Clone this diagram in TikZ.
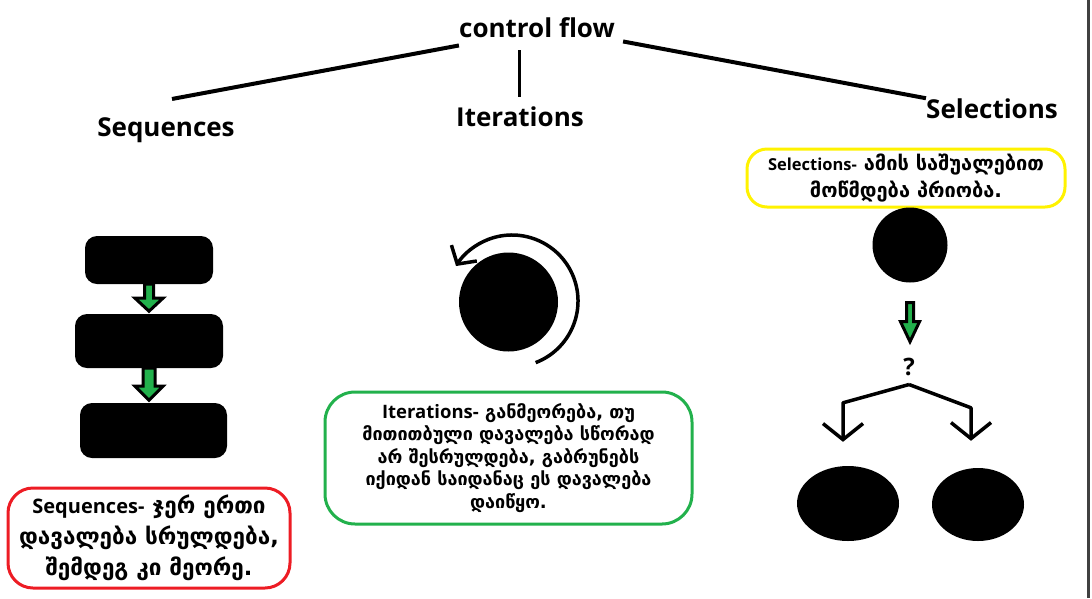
\documentclass[tikz,border=0pt]{standalone}
\usepackage{fontspec}
\setmainfont{Open Sans}
\newfontfamily\geofont{DejaVu Sans}
\usetikzlibrary{shapes.geometric,arrows.meta,calc}

\definecolor{notered}{HTML}{ED1C24}
\definecolor{notegreen}{HTML}{22B14C}
\definecolor{noteyellow}{HTML}{FFF200}
\definecolor{arrowgreen}{HTML}{22B14C}

\begin{document}
\begin{tikzpicture}[x=1pt, y=-1pt,
      title/.style={font=\fontsize{26}{30}\selectfont\bfseries, inner sep=0pt, anchor=base},
      branch/.style={line width=4pt},
      block/.style={fill=black, rounded corners=12pt, inner sep=0pt},
      blob/.style={fill=black, inner sep=0pt},
      fatarrow/.style={draw=black, fill=arrowgreen, line width=3pt, line join=miter},
      note/.style={draw, line width=3pt, align=center, inner sep=0pt},
      pick/.style={line width=3.5pt, -{Straight Barb[length=16pt, width=40pt, line width=3.5pt]}}
    ]
    \useasboundingbox (0,0) rectangle (1092,598);
    \draw[line width=3pt, black!75] (1088.5,0) -- (1088.5,598);

    % titles
    \node[title] (cf) at (537,37) {control flow};
    \node[title] (seq) at (166,136) {Sequences};
    \node[title] (it) at (520,126) {Iterations};
    \node[title] (sel) at (992,118) {Selections};

    \draw[branch] ([shift={(0,8)}]cf.south west) -- ([shift={(6,-18)}]seq.north);
    \draw[branch, line width=3pt] ($(it.north |- cf.south)+(-1,13)$) -- ([shift={(-1,-9)}]it.north);
    \draw[branch] ([shift={(8,4)}]cf.south east) -- ([shift={(0,-10)}]sel.west);

    % Sequences
    \node[block, minimum width=128pt, minimum height=48pt] (s1) at (149,260) {};
    \node[block, minimum width=148pt, minimum height=54pt] (s2) at (149,341) {};
    \node[block, minimum width=147pt, minimum height=55pt] (s3) at (153.5,430.5) {};
    \draw[fatarrow] ([shift={(-4.5,0)}]s1.south) -- ++(0,14) -- ++(-9.5,0) -- ++(14,13)
      -- ++(14,-13) -- ++(-9.5,0) -- ++(0,-14) -- cycle;
    \draw[fatarrow] ([shift={(-6,0)}]s2.south) -- ++(0,18) -- ++(-8,0) -- ++(14,14)
      -- ++(14,-14) -- ++(-8,0) -- ++(0,-18) -- cycle;
    \node[note, draw=notered, rounded corners=25pt, minimum width=282pt, minimum height=100pt,
      font=\geofont\bfseries\fontsize{22.5}{31}\selectfont] (seqnote) at (149,538)
      {{\rmfamily\fontsize{20}{31}\selectfont Sequences-} ჯერ ერთი\\დავალება სრულდება,\\შემდეგ კი მეორე.};

    % Iterations
    \node[blob, circle, minimum size=99pt] (ic) at (508.5,302) {};
    \draw[line width=3.5pt, -{Straight Barb[length=13pt, width=30pt, line width=3.5pt]}]
      ($(ic.center)+(3.5,-1)+(69:66)$) arc[start angle=69, end angle=-148, radius=66];
    \node[note, draw=notegreen, rounded corners=30pt, minimum width=367pt, minimum height=132pt,
      font=\geofont\bfseries\fontsize{18}{22.5}\selectfont] (itnote) at (508.5,458)
      {{\rmfamily\fontsize{18.5}{22.5}\selectfont Iterations-} განმეორება, თუ\\მითითბული დავალება სწორად\\არ შესრულდება, გაბრუნებს\\იქიდან საიდანაც ეს დავალება\\დაიწყო.};

    % Selections
    \node[note, draw=noteyellow, rounded corners=20pt, minimum width=318pt, minimum height=58pt,
      font=\geofont\bfseries\fontsize{20}{27}\selectfont] (selnote) at (906,178)
      {{\rmfamily\fontsize{16.5}{27}\selectfont Selections-} ამის საშუალებით\\მოწმდება პრიობა.};
    \node[blob, circle, minimum size=75pt] (sc) at (910,245) {};
    \draw[fatarrow] ([shift={(-3.5,20)}]sc.south) -- ++(0,19) -- ++(-6,0) -- ++(9.5,20)
      -- ++(9.5,-20) -- ++(-6,0) -- ++(0,-19) -- cycle;
    \node[font=\fontsize{24}{26}\selectfont\bfseries, inner sep=0pt, anchor=base] (q) at (909,375) {?};
    \node[blob, ellipse, minimum width=102pt, minimum height=75pt] (e1) at (848,503.5) {};
    \node[blob, ellipse, minimum width=92pt, minimum height=73pt] (e2) at (978,504.5) {};
    \draw[pick, line join=round] ([shift={(0,9)}]q.south) -- ([shift={(-5,-63)}]e1.north)
      -- ([shift={(-5,-24)}]e1.north);
    \draw[pick, line join=round] ([shift={(0,9)}]q.south) -- ([shift={(-7,-60)}]e2.north)
      -- ([shift={(-7,-27)}]e2.north);
  \end{tikzpicture}
\end{document}
